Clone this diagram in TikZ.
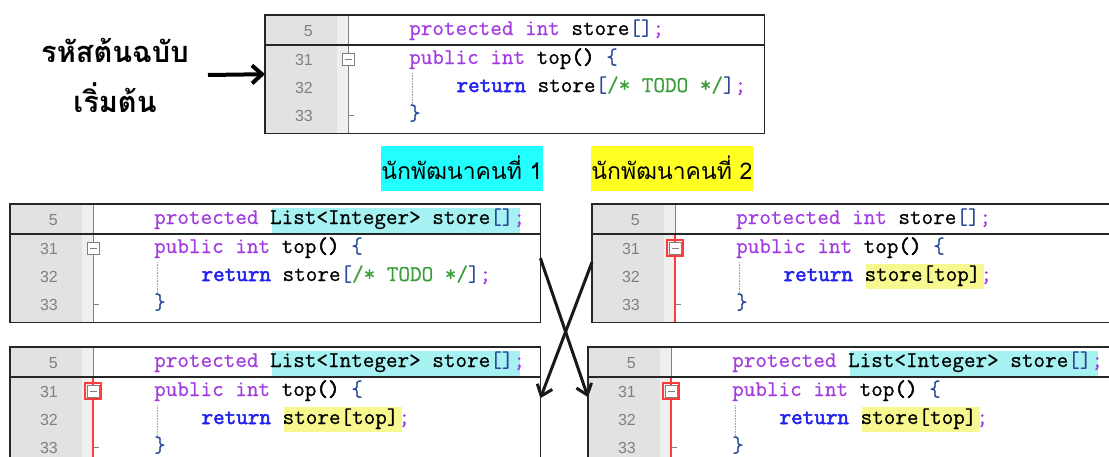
\documentclass[tikz,border=0pt]{standalone}
\usepackage{fontspec}
\usetikzlibrary{arrows.meta,calc}
\newfontfamily\numfont{Liberation Sans}
\newfontfamily\thaifont[Script=Thai]{Loma}
\newfontfamily\codefont[FakeBold=0.6]{Latin Modern Mono}
\newfontfamily\codebf[FakeBold=2.4]{Latin Modern Mono}
\definecolor{kwc}{HTML}{A23BE0}
\definecolor{retc}{HTML}{2222EE}
\definecolor{cmc}{HTML}{3A9E3A}
\definecolor{brc}{HTML}{2A4A9A}
\definecolor{cyanhl}{HTML}{A6F2F2}
\definecolor{yelhl}{HTML}{F8F890}
\definecolor{cyanlab}{HTML}{22FFFF}
\definecolor{yellab}{HTML}{FFFF22}
\definecolor{gnumc}{HTML}{E2E2E2}
\definecolor{gstripc}{HTML}{EFEFEF}
\definecolor{redc}{HTML}{FF3B3B}
\newcommand\kw[1]{\textcolor{kwc}{#1}}
\newcommand\rt[1]{\textcolor{retc}{\codebf #1}}
\newcommand\cm[1]{\textcolor{cmc}{#1}}
\newcommand\br[1]{\textcolor{brc}{#1}}
\newcommand\pb[1]{{\codebf #1}}
\tikzset{
  frame/.style={anchor=north west, minimum height=118pt, inner sep=0pt, fill=white},
  frameline/.style={draw=black!85, line width=1.4pt},
  sepline/.style={draw=black!85, line width=2pt},
  gnum/.style={fill=gnumc},
  gstrip/.style={fill=gstripc},
  foldline/.style={draw=black!50, line width=0.9pt},
  redline/.style={draw=redc, line width=1.2pt},
  guide/.style={draw=black!35, densely dotted, line width=0.6pt},
  lnum/.style={anchor=base east, inner sep=0pt, text=black!50, font=\numfont\fontsize{16}{16}\selectfont},
  code/.style={anchor=base west, inner sep=0pt, font=\codefont\fontsize{22.5}{24}\selectfont},
  devlab/.style={inner sep=0pt, minimum width=160pt, minimum height=45pt, font=\thaifont\fontsize{23}{24}\selectfont},
  bigarrow/.style={line width=4pt, -{Straight Barb[length=10pt,width=18pt]}},
  xarrow/.style={line width=3pt, draw=black!90, -{Straight Barb[length=10pt,width=16pt]}},
}
\newcommand\codeframe[5]{%
  \node[frame, minimum width=#4pt] (#1) at (#2,#3) {};
  \fill[gnum] (#2,#3) rectangle (#2+72,#3+118);
  \fill[gstrip] (#2+72,#3) rectangle (#2+83,#3+118);
  \draw[foldline] (#2+83,#3) -- (#2+83,#3+30);
  \ifnum#5=1 \draw[redline] (#2+83,#3+30) -- (#2+83,#3+118);
  \else \draw[foldline] (#2+83,#3+30) -- (#2+83,#3+118);\fi
  \draw[foldline, fill=white] (#2+77,#3+38) rectangle (#2+89,#3+50);
  \draw[foldline] (#2+79.5,#3+44) -- (#2+86.5,#3+44);
  \ifnum#5=1 \draw[redline] (#2+75,#3+36) rectangle (#2+91,#3+52);\fi
  \draw[foldline] (#2+83,#3+100) -- (#2+89,#3+100);
  \draw[guide] (#2+147,#3+58) -- (#2+147,#3+90);
  \node[lnum] (#1-n5) at (#2+48,#3+21) {5};
  \node[lnum] (#1-n31) at (#2+48,#3+50) {31};
  \node[lnum] (#1-n32) at (#2+48,#3+78) {32};
  \node[lnum] (#1-n33) at (#2+48,#3+106) {33};
}
\newcommand\codeend[4]{%
  \draw[sepline] (#2,#3+30) -- (#2+#4,#3+30);
  \draw[frameline] (#1.north west) rectangle (#1.south east);
}
\begin{document}
\begin{tikzpicture}[x=1pt,y=-1pt]
\useasboundingbox (0,0) rectangle (1109,456);
\clip (0,0) rectangle (1109,456);
\fill[white] (0,0) rectangle (1109,456);

% left label and arrow
\node[align=center, font=\thaifont\bfseries\fontsize{29}{50}\selectfont, inner sep=0pt] (lbl) at (115,75) {รหัสต้นฉบับ\\เริ่มต้น};
\coordinate (arrstart) at (208,75);

% ---- top box
\codeframe{tb}{265}{15}{499}{0}
\node[code] (tb-c5) at (409,35) {\kw{protected} \kw{int} store\br{[]}\kw{;}};
\node[code] (tb-c31) at (409,64) {\kw{public} \kw{int} top\pb{()} \br{\{}};
\node[code] (tb-c32) at (456.3,92) {\rt{return} store\br{[}\cm{/* TODO */}\br{]}\kw{;}};
\node[code] (tb-c33) at (409,120) {\br{\}}};
\codeend{tb}{265}{15}{499}

\draw[bigarrow] (arrstart) -- (tb.west);

% developer labels
\node[devlab, fill=cyanlab] (dev1) at (462,168) {นักพัฒนาคนที่ 1};
\node[devlab, fill=yellab] (dev2) at (672,168) {นักพัฒนาคนที่ 2};

% ---- left middle box
\codeframe{m1}{10}{204}{530}{0}
\fill[cyanhl] (272.2,208) rectangle (520.4,233);
\node[code] (m1-c5) at (154,224) {\kw{protected} List<Integer> store\br{[]}\kw{;}};
\node[code] (m1-c31) at (154,253) {\kw{public} \kw{int} top\pb{()} \br{\{}};
\node[code] (m1-c32) at (201.3,281) {\rt{return} store\br{[}\cm{/* TODO */}\br{]}\kw{;}};
\node[code] (m1-c33) at (154,309) {\br{\}}};
\codeend{m1}{10}{204}{530}

% ---- right middle box
\codeframe{m2}{592}{204}{540}{1}
\fill[yelhl] (866,264) rectangle (984,289);
\node[code] (m2-c5) at (736,224) {\kw{protected} \kw{int} store\br{[]}\kw{;}};
\node[code] (m2-c31) at (736,253) {\kw{public} \kw{int} top\pb{()} \br{\{}};
\node[code] (m2-c32) at (783.3,281) {\rt{return} store[top]\kw{;}};
\node[code] (m2-c33) at (736,309) {\br{\}}};
\codeend{m2}{592}{204}{540}

% ---- bottom left box
\codeframe{b1}{10}{347}{530}{1}
\fill[cyanhl] (272.2,351) rectangle (520.4,376);
\fill[yelhl] (284,407) rectangle (402,432);
\node[code] (b1-c5) at (154,367) {\kw{protected} List<Integer> store\br{[]}\kw{;}};
\node[code] (b1-c31) at (154,396) {\kw{public} \kw{int} top\pb{()} \br{\{}};
\node[code] (b1-c32) at (201.3,424) {\rt{return} store[top]\kw{;}};
\node[code] (b1-c33) at (154,452) {\br{\}}};
\codeend{b1}{10}{347}{530}

% ---- bottom right box
\codeframe{b2}{588}{347}{560}{1}
\fill[cyanhl] (850.2,351) rectangle (1098.4,376);
\fill[yelhl] (862,407) rectangle (980,432);
\node[code] (b2-c5) at (732,367) {\kw{protected} List<Integer> store\br{[]}\kw{;}};
\node[code] (b2-c31) at (732,396) {\kw{public} \kw{int} top\pb{()} \br{\{}};
\node[code] (b2-c32) at (779.3,424) {\rt{return} store[top]\kw{;}};
\node[code] (b2-c33) at (732,452) {\br{\}}};
\codeend{b2}{588}{347}{560}

% crossing arrows
\draw[xarrow] ([yshift=5pt]m1.east) -- ([yshift=9pt]b2.west);
\draw[xarrow] ([yshift=1pt]m2.west) -- ([yshift=8pt]b1.east);
\end{tikzpicture}
\end{document}
